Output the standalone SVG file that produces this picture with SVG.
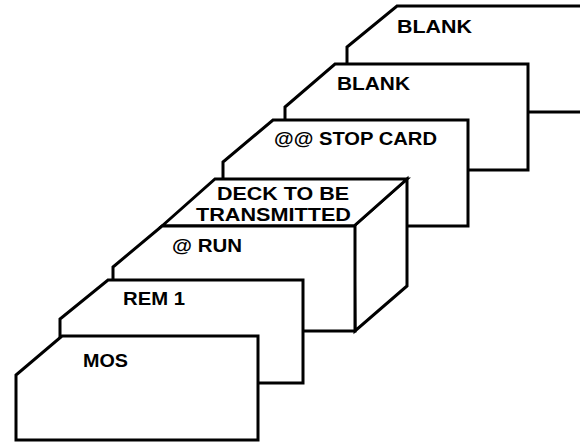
<svg xmlns="http://www.w3.org/2000/svg" width="580" height="443" viewBox="0 0 580 443">
<style>
.card{fill:#fff;stroke:#000;stroke-width:3;stroke-linejoin:miter}
.lbl{font-family:"Liberation Sans",Arial,sans-serif;font-size:18px;font-weight:bold;fill:#000}
</style>
<rect width="580" height="443" fill="#fff"/>
<g id="card-blank-1">
<path class="card" d="M347,112 L347,47 L397,6 L600,6 L600,112 Z"/>
<text class="lbl" x="397" y="33" textLength="75" lengthAdjust="spacingAndGlyphs">BLANK</text>
</g>
<g id="card-blank-2">
<path class="card" d="M285,170 L285,107 L335,64 L528,64 L528,170 Z"/>
<text class="lbl" x="337" y="90" textLength="73" lengthAdjust="spacingAndGlyphs">BLANK</text>
</g>
<g id="card-stop">
<path class="card" d="M223,226 L223,162 L273,120 L468,120 L468,226 Z"/>
<text class="lbl" x="274" y="145" textLength="163" lengthAdjust="spacingAndGlyphs">@@ STOP CARD</text>
</g>
<g id="deck">
<path class="card" d="M354,226 L407,179 L407,286 L355,331 Z"/>
<path class="card" d="M162,226 L215,179 L407,179 L354,226 Z"/>
<text class="lbl" x="217" y="200" textLength="132" lengthAdjust="spacingAndGlyphs">DECK TO BE</text>
<text class="lbl" x="196" y="221" textLength="155" lengthAdjust="spacingAndGlyphs">TRANSMITTED</text>
</g>
<g id="card-run">
<path class="card" d="M113,331 L113,267 L162,226 L355,226 L355,331 Z"/>
<text class="lbl" x="172" y="252" textLength="70" lengthAdjust="spacingAndGlyphs">@ RUN</text>
</g>
<g id="card-rem">
<path class="card" d="M60,383 L60,319 L108,280 L303,280 L303,383 Z"/>
<text class="lbl" x="123" y="305" textLength="62" lengthAdjust="spacingAndGlyphs">REM 1</text>
</g>
<g id="card-mos">
<path class="card" d="M16,440 L16,375 L62,336 L258,336 L258,440 Z"/>
<text class="lbl" x="83" y="367" textLength="45" lengthAdjust="spacingAndGlyphs">MOS</text>
</g>
<g id="connectors"/>
</svg>
